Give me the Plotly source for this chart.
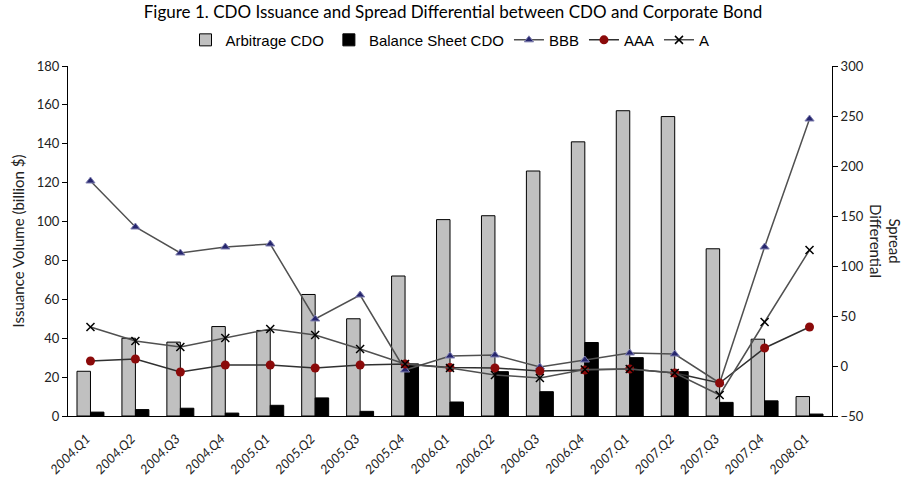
import plotly.graph_objects as go

quarters = ["2004.Q1", "2004.Q2", "2004.Q3", "2004.Q4", "2005.Q1", "2005.Q2", "2005.Q3", "2005.Q4",
            "2006.Q1", "2006.Q2", "2006.Q3", "2006.Q4", "2007.Q1", "2007.Q2", "2007.Q3", "2007.Q4", "2008.Q1"]
arbitrage_cdo = [23, 40, 38, 46, 44, 62.5, 50, 72, 101, 103, 126, 141, 157, 154, 86, 39.5, 10]
balance_sheet_cdo = [2, 3.3, 4, 1.5, 5.5, 9.3, 2.4, 26.8, 7.2, 22.8, 12.5, 37.8, 30, 22.8, 7, 7.8, 1]
bbb = [185, 139, 113, 119, 122, 47, 71, -4, 10, 11, -1, 6, 13, 12, -17, 119, 247]
aaa = [5, 7, -6, 1, 1, -2, 1, 2, -1.5, -2, -5, -4, -3, -7, -17, 18, 39]
a_spread = [39, 25, 19, 28, 37, 31, 17, 2, -2, -9, -12, -3.5, -3, -7, -29, 44, 116]

fig = go.Figure()
fig.add_trace(go.Bar(x=quarters, y=arbitrage_cdo, name="Arbitrage CDO",
                     marker=dict(color="#C0C0C0", line=dict(color="#000000", width=1))))
fig.add_trace(go.Bar(x=quarters, y=balance_sheet_cdo, name="Balance Sheet CDO",
                     marker=dict(color="#000000", line=dict(color="#000000", width=1))))
fig.add_trace(go.Scatter(x=quarters, y=bbb, name="BBB", yaxis="y2", mode="lines+markers",
                         line=dict(color="#505050", width=1.5),
                         marker=dict(symbol="triangle-up", size=8, color="#26266E",
                                     line=dict(color="#8080B0", width=1))))
fig.add_trace(go.Scatter(x=quarters, y=aaa, name="AAA", yaxis="y2", mode="lines+markers",
                         line=dict(color="#303030", width=1.5),
                         marker=dict(symbol="circle", size=9, color="#8B0A0A")))
fig.add_trace(go.Scatter(x=quarters, y=a_spread, name="A", yaxis="y2", mode="lines+markers",
                         line=dict(color="#505050", width=1.5),
                         marker=dict(symbol="x-thin-open", size=8, color="#000000",
                                     line=dict(color="#000000", width=1.5))))

tickfont = dict(family="Lato, Open Sans, sans-serif", size=13, color="#222222")

fig.update_layout(
    width=906, height=481,
    margin=dict(l=68, r=74, t=66, b=65, autoexpand=False),
    plot_bgcolor="white", paper_bgcolor="white",
    barmode="group", bargap=0.4, bargroupgap=0,
    title=dict(text="Figure 1. CDO Issuance and Spread Differential between CDO and Corporate Bond",
               x=0.5, xanchor="center", y=0.975, yanchor="middle",
               font=dict(family="Lato, Open Sans, sans-serif", size=17, color="#000000")),
    legend=dict(orientation="h", x=0.5, xanchor="center", y=1.074, yanchor="middle",
                font=dict(family="Liberation Sans, Arial, sans-serif", size=15, color="#000000"),
                bgcolor="rgba(0,0,0,0)", itemwidth=30, traceorder="normal"),
    xaxis=dict(showline=True, linecolor="#000000", linewidth=1, showgrid=False,
               range=[-0.5, len(quarters) - 0.5], autorange=False,
               ticks="", tickangle=-45, automargin=False,
               ticklabelstandoff=9, ticklabelshift=-4,
               tickfont=dict(family="Lato, Open Sans, sans-serif", size=13, color="#222222", style="italic")),
    yaxis=dict(range=[0, 180], dtick=20, showline=True, linecolor="#000000", linewidth=1,
               showgrid=False, zeroline=False, ticks="outside", ticklen=5, tickcolor="#000000",
               tickfont=tickfont, automargin=False,
               title=dict(text="Issuance Volume (billion $)", standoff=8,
                          font=dict(family="Lato, Open Sans, sans-serif", size=15, color="#222222"))),
    yaxis2=dict(range=[-50, 300], dtick=50, overlaying="y", side="right", showline=True,
                linecolor="#000000", linewidth=1, showgrid=False, zeroline=False, automargin=False,
                ticks="outside", ticklen=5, tickcolor="#000000", tickfont=tickfont),
    annotations=[dict(text="Spread<br>Differential", textangle=90, xref="paper", yref="paper",
                      x=1.0, xshift=32, y=0.5, xanchor="left", yanchor="middle", showarrow=False,
                      font=dict(family="Lato, Open Sans, sans-serif", size=15, color="#222222"))],
)

fig.write_html("out.html")
